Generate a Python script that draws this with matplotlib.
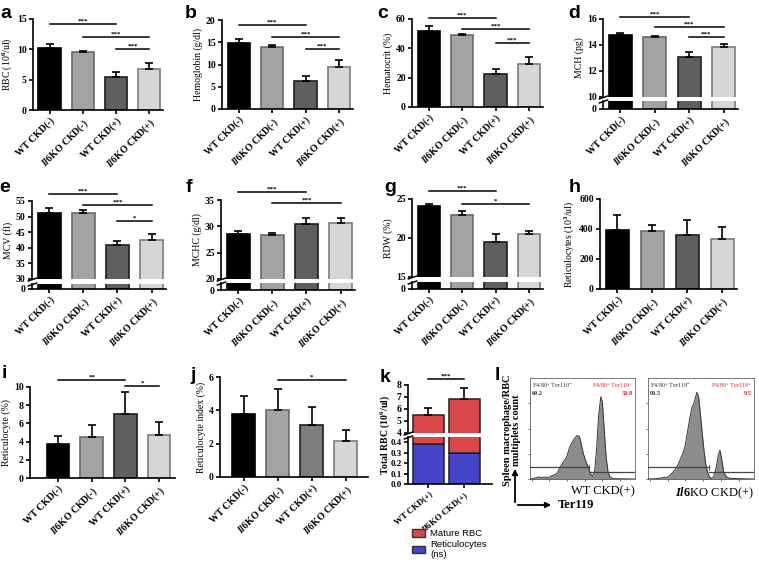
import numpy as np
import matplotlib
matplotlib.use("Agg")
import matplotlib.pyplot as plt
from matplotlib.patches import Patch, FancyArrowPatch

plt.rcParams['font.family'] = 'Liberation Serif'
plt.rcParams['font.weight'] = 'bold'
plt.rcParams['mathtext.fontset'] = 'custom'
plt.rcParams['mathtext.rm'] = 'Liberation Serif:bold'
plt.rcParams['mathtext.it'] = 'Liberation Serif:italic:bold'
plt.rcParams['mathtext.bf'] = 'Liberation Serif:bold'
plt.rcParams['axes.linewidth'] = 1.2

W, H = 759, 563

# ---- data ----
groups = ["WT CKD(-)", r"$\mathit{Il6}$KO CKD(-)", "WT CKD(+)", r"$\mathit{Il6}$KO CKD(+)"]

rbc = [10.3, 9.5, 5.5, 6.8]
rbc_err = [0.5, 0.3, 0.7, 1.0]
hgb = [14.8, 13.9, 6.3, 9.5]
hgb_err = [0.9, 0.5, 1.1, 1.4]
hct = [52.0, 49.1, 22.5, 29.2]
hct_err = [3.0, 1.0, 3.6, 5.2]
mch = [14.75, 14.65, 13.1, 13.85]
mch_err = [0.15, 0.08, 0.35, 0.25]
mcv = [51.0, 51.3, 40.8, 42.6]
mcv_err = [1.6, 0.8, 1.4, 1.8]
mchc = [28.6, 28.4, 30.5, 30.6]
mchc_err = [0.6, 0.4, 1.0, 1.0]
rdw = [24.1, 22.9, 19.5, 20.5]
rdw_err = [0.2, 0.6, 1.0, 0.4]
retic = [390, 385, 358, 333]
retic_err = [100, 40, 100, 82]
retic_pct = [3.7, 4.5, 7.0, 4.7]
retic_pct_err = [0.9, 1.35, 2.5, 1.45]
retic_idx = [3.8, 4.0, 3.1, 2.15]
retic_idx_err = [1.05, 1.3, 1.1, 0.65]

k_groups = ["WT CKD(+)", r"$\mathit{Il6}$KO CKD(+)"]
k_total = [5.5, 6.85]
k_total_err = [0.6, 0.9]
k_retic = [0.38, 0.30]

# flow histograms: log10 Ter119 intensity, relative count
wt_x = [-0.1, 0.2, 0.38, 0.57, 0.75, 0.94, 1.08, 1.23, 1.42, 1.6, 1.79, 1.98, 2.13,
        2.26, 2.4, 2.55, 2.7, 2.79, 2.92, 3.08, 3.21, 3.34, 3.45, 3.57, 3.68, 3.79,
        3.91, 4.0, 4.09, 4.21, 4.32, 4.43, 4.62, 5.85]
wt_y = [0, 1, 2, 1.4, 2, 1, 2.7, 3.7, 5.4, 11.5, 17.2, 21.6, 30.7, 35.5, 39.5, 43,
        42.2, 35.5, 25.3, 16.9, 11.5, 4.7, 2.7, 8.8, 32, 62.8, 81.4, 76.4, 52.7,
        22.3, 7.1, 2, 0.3, 0]
ko_x = [-0.1, 0.38, 0.75, 1.04, 1.32, 1.51, 1.7, 1.85, 1.98, 2.11, 2.26, 2.38, 2.45,
        2.55, 2.64, 2.74, 2.83, 2.94, 3.06, 3.17, 3.3, 3.43, 3.58, 3.74, 3.85, 3.94,
        4.04, 4.15, 4.3, 4.5, 5.85]
ko_y = [0, 0.3, 1.4, 2, 7.1, 11.5, 18.9, 25, 32.4, 45.9, 61.5, 71.6, 73.9, 79.7,
        85.8, 81.4, 66.2, 45.9, 25.7, 11.5, 3.7, 0.3, 2, 12.2, 24.3, 28.4, 19.3, 7.1,
        2, 0.6, 0]
wt_pct = ["69.2", "30.8"]
ko_pct = ["90.5", "9.5"]

bar_colors = ['#000000', '#a3a3a3', '#5f5f5f', '#d6d6d6']
edge_colors = ['#000000', '#6a6a6a', '#1e1e1e', '#7c7c7c']

FS = 7

fig = plt.figure(figsize=(W / 100, H / 100), dpi=100)


def px_rect(l, t, r, b):
    return [l / W, 1 - b / H, (r - l) / W, (b - t) / H]


def break_marks(top, bot):
    kw = dict(marker=[(-1, -0.35), (1, 0.35)], markersize=7, linestyle='none',
              color='k', mec='k', mew=1.1, clip_on=False)
    top.plot([0], [0], transform=top.transAxes, **kw)
    bot.plot([0], [1], transform=bot.transAxes, **kw)


def bar_panel(box, vals, errs, ylim, yticks, ylabel, brk=None, sigs=(),
              xlim=(-0.5, 3.42), colors=bar_colors, labels=groups):
    l, t, r, b = box
    x = np.arange(len(vals))
    if brk is None:
        top = fig.add_axes(px_rect(l, t, r, b))
        bot = top
        axes = [top]
    else:
        top = fig.add_axes(px_rect(l, t, r, brk[0]))
        bot = fig.add_axes(px_rect(l, brk[1], r, b))
        axes = [top, bot]
    for ax in axes:
        ax.bar(x, vals, width=0.67, color=colors, edgecolor=edge_colors[:len(vals)],
               linewidth=1.2, zorder=2)
        ax.set_xlim(*xlim)
        ax.spines['top'].set_visible(False)
        ax.spines['right'].set_visible(False)
        ax.tick_params(axis='both', labelsize=FS, width=1.2, length=3, pad=1.5)
    top.errorbar(x, vals, yerr=[np.zeros(len(vals)), errs], fmt='none', ecolor='black',
                 elinewidth=1.2, capsize=3.2, capthick=1.2, zorder=3)
    top.set_ylim(*ylim)
    top.set_yticks(yticks)
    if brk is not None:
        top.spines['bottom'].set_visible(False)
        top.tick_params(axis='x', bottom=False, labelbottom=False)
        bot.set_ylim(0, 1)
        bot.set_yticks([0])
        break_marks(top, bot)
    top.set_ylabel(ylabel, fontsize=FS, labelpad=2)
    bot.set_xticks(x)
    bot.set_xticklabels(labels, rotation=45, ha='right', rotation_mode='anchor',
                        fontsize=FS)
    for i1, i2, y, s in sigs:
        top.plot([i1, i2], [y, y], color='k', lw=1.1, clip_on=False, zorder=4)
        top.annotate(s, ((i1 + i2) / 2, y), xytext=(0, 0.3), textcoords='offset points',
                     ha='center', va='bottom', fontsize=5, annotation_clip=False)
    return top, bot


# ---- row 1 ----
bar_panel((33, 19, 163, 110), rbc, rbc_err, (0, 15), [0, 5, 10, 15],
          r"RBC (10$^{6}$/ul)",
          sigs=[(0, 2, 14.2, '***'), (1, 3, 12.1, '***'), (2, 3, 10.1, '***')])
bar_panel((222, 20, 353, 109), hgb, hgb_err, (0, 20), [0, 5, 10, 15, 20],
          "Hemoglobin (g/dl)",
          sigs=[(0, 2, 18.9, '***'), (1, 3, 16.2, '***'), (2, 3, 13.5, '***')])
bar_panel((412, 19, 543, 107), hct, hct_err, (0, 60), [0, 20, 40, 60],
          "Hematocrit (%)",
          sigs=[(0, 2, 60.4, '***'), (1, 3, 53, '***'), (2, 3, 43.5, '***')])
bar_panel((603, 19, 738, 109), mch, mch_err, (10, 16), [10, 12, 14, 16],
          "MCH (pg)", brk=(97, 101),
          sigs=[(0, 2, 16.18, '***'), (1, 3, 15.36, '***'), (2, 3, 14.59, '***')])

# ---- row 2 ----
bar_panel((32, 201, 166, 289), mcv, mcv_err, (30, 55), [30, 35, 40, 45, 50, 55],
          "MCV (fl)", brk=(279, 284),
          sigs=[(0, 2, 57.2, '***'), (1, 3, 53.7, '***'), (2, 3, 48.6, '*')])
bar_panel((221, 200, 355, 290), mchc, mchc_err, (20, 35), [20, 25, 30, 35],
          "MCHC (g/dl)", brk=(279, 283),
          sigs=[(0, 2, 36.6, '***'), (1, 3, 34.4, '***')])
bar_panel((412, 199, 543, 289), rdw, rdw_err, (15, 25), [15, 20, 25],
          "RDW (%)", brk=(277, 282),
          sigs=[(0, 2, 26.0, '***'), (1, 3, 24.4, '*')])
bar_panel((600, 199, 737, 289), retic, retic_err, (0, 600), [0, 200, 400, 600],
          r"Reticulocytes (10$^{3}$/ul)")

# ---- row 3 ----
bar_panel((30, 387, 175, 478), retic_pct, retic_pct_err, (0, 10), [0, 2, 4, 6, 8, 10],
          "Reticulocyte (%)", xlim=(-0.83, 3.47),
          sigs=[(0, 2, 10.8, '**'), (2, 3, 10.15, '*')])
bar_panel((220, 377, 368, 477), retic_idx, retic_idx_err, (0, 6), [0, 2, 4, 6],
          "Reticulocyte index (%)", xlim=(-0.7, 3.65),
          colors=['#000000', '#a3a3a3', '#7d7d7d', '#d6d6d6'],
          sigs=[(1, 3, 5.8, '*')])

# ---- panel k: stacked, broken ----
kx = np.arange(len(k_total))
k_mature = [t - r for t, r in zip(k_total, k_retic)]
red, blue = '#d9474a', '#4545c9'
ktop = fig.add_axes(px_rect(408, 385, 492, 433))
kbot = fig.add_axes(px_rect(408, 437, 492, 484))
for ax in (ktop, kbot):
    ax.bar(kx, k_retic, width=0.87, color=blue, edgecolor='#222222', linewidth=1.1)
    ax.bar(kx, k_mature, bottom=k_retic, width=0.87, color=red, edgecolor='#222222',
           linewidth=1.1)
    ax.set_xlim(-0.57, 1.77)
    ax.spines['top'].set_visible(False)
    ax.spines['right'].set_visible(False)
    ax.tick_params(axis='both', labelsize=FS, width=1.2, length=3, pad=1.5)
ktop.errorbar(kx, k_total, yerr=[np.zeros(2), k_total_err], fmt='none', ecolor='black',
              elinewidth=1.2, capsize=3.2, capthick=1.2)
ktop.set_ylim(4, 8)
ktop.set_yticks([4, 5, 6, 7, 8])
ktop.spines['bottom'].set_visible(False)
ktop.tick_params(axis='x', bottom=False, labelbottom=False)
kbot.set_ylim(0, 0.45)
kbot.set_yticks([0, 0.1, 0.2, 0.3, 0.4])
kbot.set_yticklabels(["0.0", "0.1", "0.2", "0.3", "0.4"])
kbot.tick_params(axis='y', labelsize=6.5)
break_marks(ktop, kbot)
kbot.set_xticks(kx)
kbot.set_xticklabels(k_groups, rotation=40, ha='right', rotation_mode='anchor',
                     fontsize=6.3)
fig.text(385 / W, 1 - 435 / H, r"Total RBC (10$^{6}$/ul)", rotation=90, fontsize=FS,
         ha='center', va='center')
ktop.plot([0, 1], [8.5, 8.5], color='k', lw=1.1, clip_on=False)
ktop.annotate('***', (0.5, 8.5), xytext=(0, 0.3), textcoords='offset points',
              ha='center', va='bottom', fontsize=5, annotation_clip=False)
fig.legend(handles=[Patch(facecolor=red, edgecolor='#333333', label='Mature RBC'),
                    Patch(facecolor=blue, edgecolor='#333333', label='Reticulocytes\n(ns)')],
           loc='upper left', bbox_to_anchor=(412 / W, 1 - 529 / H), frameon=False,
           prop={'family': 'Liberation Sans', 'weight': 'normal', 'size': 6.8},
           handlelength=1.4, handleheight=0.9, handletextpad=0.5, labelspacing=0.15,
           borderaxespad=0, borderpad=0)


# ---- panel l: flow histograms ----
def hist_panel(box, hx, hy, pct, title, gate):
    ax = fig.add_axes(px_rect(*box))
    ax.fill_between(hx, hy, color='#8c8c8c', lw=0)
    ax.plot(hx, hy, color='#333333', lw=0.7)
    ax.set_xlim(-0.1, 5.85)
    ax.set_ylim(0, 100)
    for s in ax.spines.values():
        s.set_linewidth(0.5)
        s.set_color('#444444')
    ax.set_xticks(range(6))
    ax.set_yticks([0, 25, 50, 75])
    ax.tick_params(length=1.5, width=0.4, labelbottom=False, labelleft=False)
    ax.plot([-0.1, gate], [11.5, 11.5], color='#444444', lw=0.9)
    ax.plot([gate, 5.85], [6.5, 6.5], color='#444444', lw=0.9)
    ax.plot([gate, gate], [9, 14], color='#444444', lw=0.6)
    ax.text(0.02, 0.97, r"F4/80$^{+}$ Ter119$^{-}$", transform=ax.transAxes, fontsize=4.5,
            color='#333333', ha='left', va='top', fontweight='normal')
    ax.text(0.02, 0.87, pct[0], transform=ax.transAxes, fontsize=4.5, color='#333333',
            ha='left', va='top')
    ax.text(0.98, 0.97, r"F4/80$^{+}$ Ter119$^{+}$", transform=ax.transAxes, fontsize=4.5,
            color='#e8262a', ha='right', va='top', fontweight='normal')
    ax.text(0.98, 0.87, pct[1], transform=ax.transAxes, fontsize=4.5, color='#e8262a',
            ha='right', va='top')
    ax.set_xlabel(title, fontsize=9, labelpad=3, loc='right')
    return ax


hist_panel((530, 378, 635, 479), wt_x, wt_y, wt_pct, "WT CKD(+)", 3.25)
hist_panel((648, 378, 754, 479), ko_x, ko_y, ko_pct, r"$\mathit{Il6}$KO CKD(+)", 3.3)
fig.text(512 / W, 1 - 430 / H, "Spleen macrophage/RBC\nmultiplets count", rotation=90,
         fontsize=7.5, ha='center', va='center', linespacing=1.1)
fig.add_artist(FancyArrowPatch((515 / W, 1 - 505 / H), (515 / W, 1 - 466 / H),
                               transform=fig.transFigure, arrowstyle='-|>',
                               mutation_scale=8, lw=1.3, color='k'))
fig.add_artist(FancyArrowPatch((515 / W, 1 - 505 / H), (554 / W, 1 - 505 / H),
                               transform=fig.transFigure, arrowstyle='-|>',
                               mutation_scale=8, lw=1.3, color='k'))
fig.text(558 / W, 1 - 505 / H, "Ter119", fontsize=9, ha='left', va='center')

# ---- panel letters ----
letters = ['a', 'b', 'c', 'd', 'e', 'f', 'g', 'h', 'i', 'j', 'k', 'l']
letter_pos = [(6, 13), (191, 13), (383, 13), (574, 13),
              (5, 188), (189, 188), (390, 188), (575, 188),
              (4, 374), (193, 376), (385, 377), (497, 376)]
for s, (lx, ly) in zip(letters, letter_pos):
    fig.text(lx / W, 1 - ly / H, s, fontsize=14, fontweight='bold', family='Liberation Sans',
             ha='center', va='center')

fig.savefig("out.png", dpi=100)
